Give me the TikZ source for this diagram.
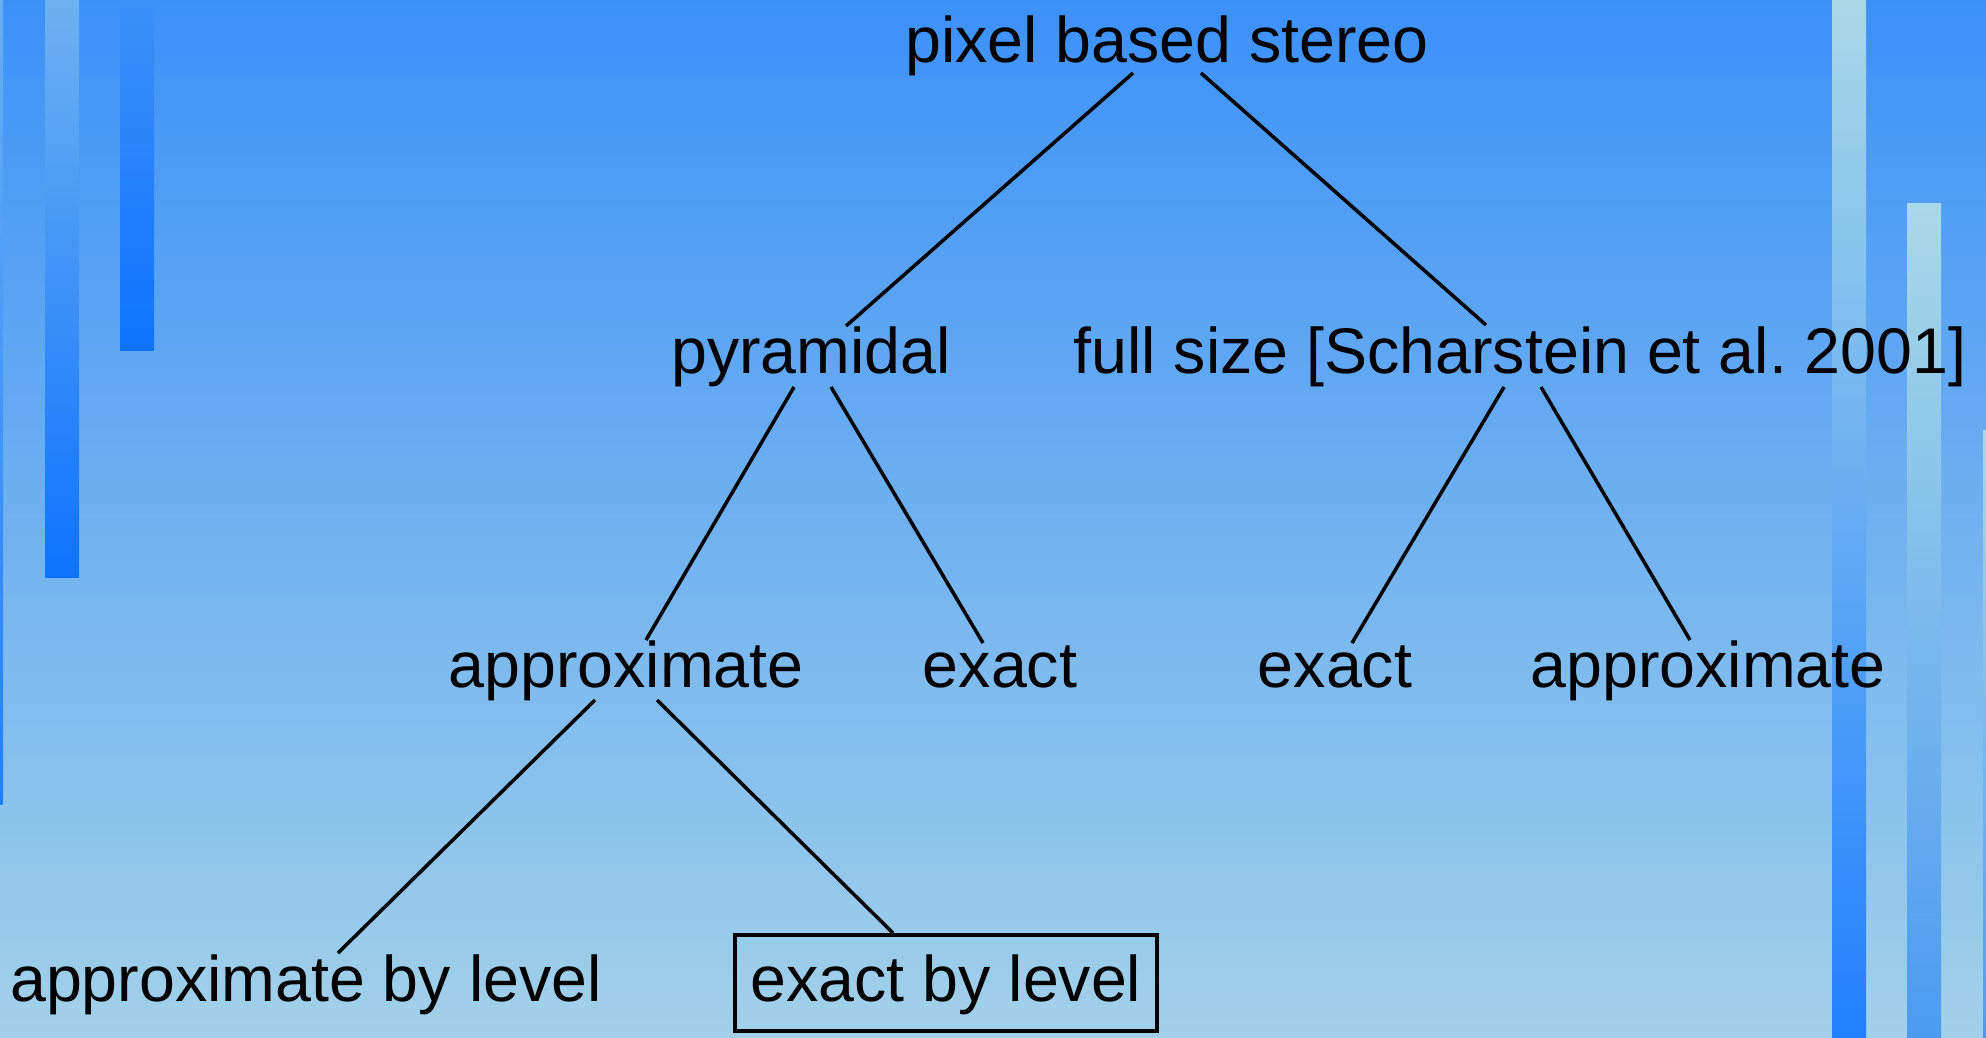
\documentclass[tikz,border=0pt]{standalone}
\usepackage{fontspec}
\setmainfont{Liberation Sans}
\usetikzlibrary{backgrounds}
\usepackage{xcolor}
\definecolor{skytop}{HTML}{3C91F8}
\definecolor{skybot}{HTML}{A2D1E9}
\definecolor{deepblue}{HTML}{0E73FF}
\definecolor{midblue}{HTML}{2080FF}
\definecolor{softblue}{HTML}{4C9BF1}
\definecolor{paleblue}{HTML}{A9D9E7}

\tikzset{
  word/.style={anchor=base,inner sep=0pt,font=\fontsize{64.5}{78}\selectfont},
  chosen/.style={word,draw,line width=4pt,inner xsep=16pt,inner ysep=18pt,text height=48pt,text depth=12pt},
  branch/.style={line width=3.5pt}
}

\begin{document}
\begin{tikzpicture}[x=1pt,y=-1pt,background rectangle/.style={top color=skytop,bottom color=skybot},show background rectangle,inner frame sep=0pt]
		\useasboundingbox (0,0) rectangle (1986,1037);
		%stripes left
		\shade[top color=skytop!60!paleblue,bottom color=midblue] (0,0) rectangle (3,804);
		\shade[top color=skytop!55!paleblue,bottom color=deepblue] (45,0) rectangle (79,577);
		\shade[top color=skytop,bottom color=deepblue] (120,0) rectangle (154,350);
		%stripes right
		\shade[top color=paleblue,bottom color=midblue] (1832,0) rectangle (1866,1037);
		\shade[top color=paleblue,bottom color=softblue] (1907,203) rectangle (1941,1037);
		\shade[top color=paleblue,bottom color=softblue] (1983,430) rectangle (1986,1037);
		%top
		\node[word] (root) at (1167,62) {pixel based stereo};
		%second row
		\node[word] (pyr) at (811,373) {pyramidal};
		\node[word] (full) at (1520,373) {full size [Scharstein et al.\ 2001]};
		%third row
		\node[word] (approxL) at (626,687) {approximate};
		\node[word] (exactL) at (1000,687) {exact};
		\node[word] (exactR) at (1335,687) {exact};
		\node[word] (approxR) at (1708,687) {approximate};
		%bottom row
		\node[word] (bylevelA) at (306,1001) {approximate by level};
		\node[chosen] (bylevelE) at (946,1001) {exact by level};
		%branches
		\draw[branch] ([shift={(-34,11)}]root.base) -- ([shift={(35,-47)}]pyr.base);
		\draw[branch] ([shift={(34,11)}]root.base) -- ([shift={(-34,-48)}]full.base);
		\draw[branch] ([shift={(-17,14)}]pyr.base) -- ([shift={(20,-47)}]approxL.base);
		\draw[branch] ([shift={(20,14)}]pyr.base) -- ([shift={(-17,-44)}]exactL.base);
		\draw[branch] ([shift={(-16,14)}]full.base) -- ([shift={(17,-44)}]exactR.base);
		\draw[branch] ([shift={(21,14)}]full.base) -- ([shift={(-18,-47)}]approxR.base);
		\draw[branch] ([shift={(-31,13)}]approxL.base) -- ([shift={(32,-48)}]bylevelA.base);
		\draw[branch] ([shift={(31,13)}]approxL.base) -- ([xshift=-53pt]bylevelE.north);
	\end{tikzpicture}
\end{document}
